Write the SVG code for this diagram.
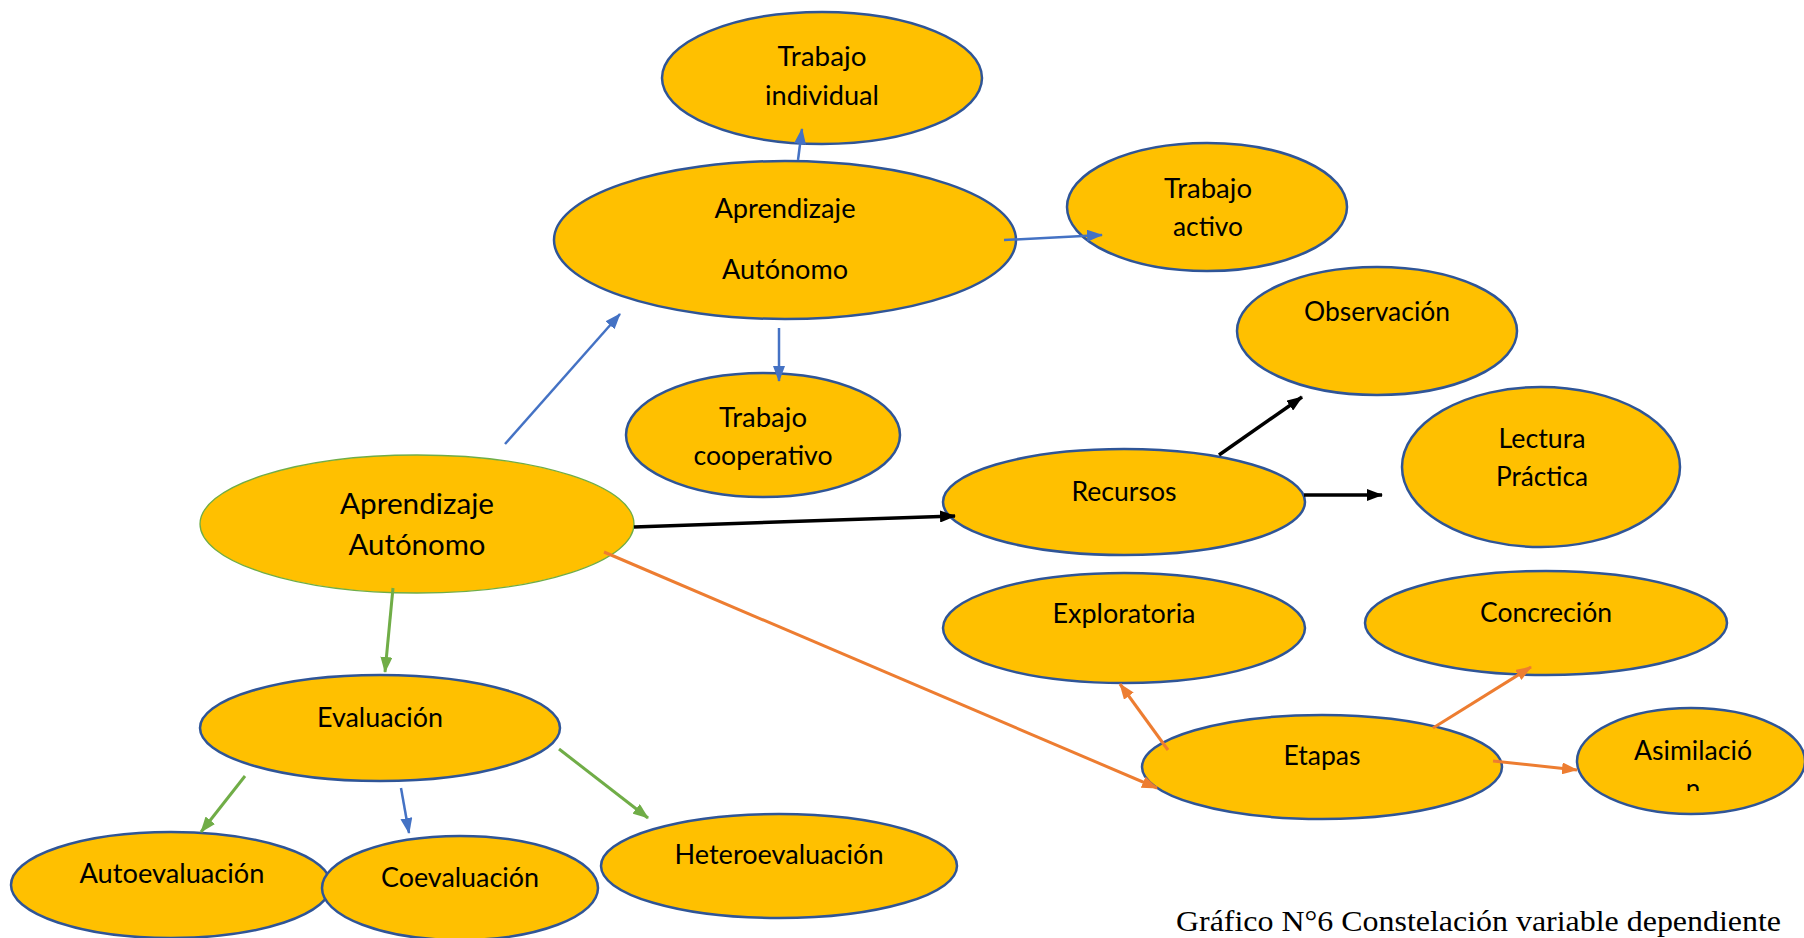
<svg xmlns="http://www.w3.org/2000/svg" width="1804" height="938" viewBox="0 0 1804 938">
<style>
.n{fill:#FFC000;stroke:#2F5597;stroke-width:2.5}
.nm{fill:#FFC000;stroke:#70AD47;stroke-width:1.3}
.t{font-family:Lato,"Noto Sans",sans-serif;font-size:26px;fill:#000;text-anchor:middle}
.tb{font-size:28px}
.c{fill:none}
.blue{stroke:#4472C4;stroke-width:2.5}
.black{stroke:#000;stroke-width:3.5}
.orange{stroke:#ED7D31;stroke-width:3}
.green{stroke:#70AD47;stroke-width:3}
.cap{font-family:"Liberation Serif","Times New Roman",serif;font-size:30px;fill:#000}
</style>
<defs>
<marker id="ab" markerUnits="userSpaceOnUse" markerWidth="16" markerHeight="12" refX="15" refY="6" orient="auto"><path d="M0,0 L16,6 L0,12 z" fill="#4472C4"/></marker>
<marker id="ak" markerUnits="userSpaceOnUse" markerWidth="16" markerHeight="12" refX="15" refY="6" orient="auto"><path d="M0,0 L16,6 L0,12 z" fill="#000"/></marker>
<marker id="ao" markerUnits="userSpaceOnUse" markerWidth="16" markerHeight="12" refX="15" refY="6" orient="auto"><path d="M0,0 L16,6 L0,12 z" fill="#ED7D31"/></marker>
<marker id="ag" markerUnits="userSpaceOnUse" markerWidth="16" markerHeight="12" refX="15" refY="6" orient="auto"><path d="M0,0 L16,6 L0,12 z" fill="#70AD47"/></marker>
<clipPath id="asclip"><rect x="1560" y="690" width="244" height="101"/></clipPath>
</defs>
<rect width="1804" height="938" fill="#fff"/>

<g id="n-trabajo-individual"><ellipse class="n" cx="822" cy="78" rx="160" ry="66"/>
<text class="t" x="822" y="66" textLength="89" lengthAdjust="spacingAndGlyphs">Trabajo</text>
<text class="t" x="822" y="105" textLength="114" lengthAdjust="spacingAndGlyphs">individual</text></g>

<g id="n-aprendizaje-top"><ellipse class="n" cx="785" cy="240" rx="231" ry="79"/>
<text class="t" x="785" y="218" textLength="141" lengthAdjust="spacingAndGlyphs">Aprendizaje</text>
<text class="t" x="785" y="279" textLength="126" lengthAdjust="spacingAndGlyphs">Autónomo</text></g>

<g id="n-trabajo-activo"><ellipse class="n" cx="1207" cy="207" rx="140" ry="64"/>
<text class="t" x="1208" y="198" textLength="88" lengthAdjust="spacingAndGlyphs">Trabajo</text>
<text class="t" x="1208" y="236" textLength="70" lengthAdjust="spacingAndGlyphs">activo</text></g>

<g id="n-observacion"><ellipse class="n" cx="1377" cy="331" rx="140" ry="64"/>
<text class="t" x="1377" y="321" textLength="146" lengthAdjust="spacingAndGlyphs">Observación</text></g>

<g id="n-lectura"><ellipse class="n" cx="1541" cy="467" rx="139" ry="80"/>
<text class="t" x="1542" y="448" textLength="87" lengthAdjust="spacingAndGlyphs">Lectura</text>
<text class="t" x="1542" y="486" textLength="92" lengthAdjust="spacingAndGlyphs">Práctica</text></g>

<g id="n-trabajo-cooperativo"><ellipse class="n" cx="763" cy="435" rx="137" ry="62"/>
<text class="t" x="763" y="427" textLength="88" lengthAdjust="spacingAndGlyphs">Trabajo</text>
<text class="t" x="763" y="465" textLength="139" lengthAdjust="spacingAndGlyphs">cooperativo</text></g>

<g id="n-recursos"><ellipse class="n" cx="1124" cy="502" rx="181" ry="53"/>
<text class="t" x="1124" y="501" textLength="105" lengthAdjust="spacingAndGlyphs">Recursos</text></g>

<g id="n-aprendizaje-main"><ellipse class="nm" cx="417" cy="524" rx="217" ry="69"/>
<text class="t tb" x="417" y="514" textLength="154" lengthAdjust="spacingAndGlyphs">Aprendizaje</text>
<text class="t tb" x="417" y="555" textLength="137" lengthAdjust="spacingAndGlyphs">Autónomo</text></g>

<g id="n-exploratoria"><ellipse class="n" cx="1124" cy="628" rx="181" ry="55"/>
<text class="t" x="1124" y="623" textLength="143" lengthAdjust="spacingAndGlyphs">Exploratoria</text></g>

<g id="n-concrecion"><ellipse class="n" cx="1546" cy="623" rx="181" ry="52"/>
<text class="t" x="1546" y="622" textLength="132" lengthAdjust="spacingAndGlyphs">Concreción</text></g>

<g id="n-etapas"><ellipse class="n" cx="1322" cy="767" rx="180" ry="52"/>
<text class="t" x="1322" y="765" textLength="77" lengthAdjust="spacingAndGlyphs">Etapas</text></g>

<g id="n-asimilacion"><ellipse class="n" cx="1691" cy="761" rx="114" ry="53"/>
<text class="t" x="1693" y="760" textLength="118" lengthAdjust="spacingAndGlyphs">Asimilació</text>
<text class="t" x="1693" y="798" clip-path="url(#asclip)">n</text></g>

<g id="n-evaluacion"><ellipse class="n" cx="380" cy="728" rx="180" ry="53"/>
<text class="t" x="380" y="727" textLength="126" lengthAdjust="spacingAndGlyphs">Evaluación</text></g>

<g id="n-autoevaluacion"><ellipse class="n" cx="171" cy="885" rx="160" ry="53"/>
<text class="t" x="172" y="883" textLength="185" lengthAdjust="spacingAndGlyphs">Autoevaluación</text></g>

<g id="n-coevaluacion"><ellipse class="n" cx="460" cy="888" rx="138" ry="52"/>
<text class="t" x="460" y="887" textLength="158" lengthAdjust="spacingAndGlyphs">Coevaluación</text></g>

<g id="n-heteroevaluacion"><ellipse class="n" cx="779" cy="866" rx="178" ry="52"/>
<text class="t" x="779" y="864" textLength="209" lengthAdjust="spacingAndGlyphs">Heteroevaluación</text></g>

<g id="connectors">
<line class="c blue" x1="505" y1="444" x2="620" y2="314" marker-end="url(#ab)"/>
<line class="c blue" x1="798" y1="160" x2="802" y2="129" marker-end="url(#ab)"/>
<line class="c blue" x1="1004" y1="240" x2="1102" y2="235" marker-end="url(#ab)"/>
<line class="c blue" x1="779" y1="328" x2="779" y2="381" marker-end="url(#ab)"/>
<line class="c black" x1="634" y1="527" x2="955" y2="516" marker-end="url(#ak)"/>
<line class="c black" x1="1219" y1="455" x2="1302" y2="397" marker-end="url(#ak)"/>
<line class="c black" x1="1304" y1="495" x2="1382" y2="495" marker-end="url(#ak)"/>
<line class="c orange" x1="604" y1="552" x2="1157" y2="788" marker-end="url(#ao)"/>
<line class="c orange" x1="1168" y1="750" x2="1120" y2="684" marker-end="url(#ao)"/>
<line class="c orange" x1="1433" y1="728" x2="1531" y2="667" marker-end="url(#ao)"/>
<line class="c orange" x1="1493" y1="761" x2="1577" y2="770" marker-end="url(#ao)"/>
<line class="c green" x1="393" y1="588" x2="385" y2="672" marker-end="url(#ag)"/>
<line class="c green" x1="245" y1="776" x2="201" y2="832" marker-end="url(#ag)"/>
<line class="c blue" x1="401" y1="788" x2="409" y2="833" marker-end="url(#ab)"/>
<line class="c green" x1="559" y1="749" x2="648" y2="818" marker-end="url(#ag)"/>
</g>

<text class="cap" x="1176" y="931" textLength="605" lengthAdjust="spacingAndGlyphs">Gráfico N°6 Constelación variable dependiente</text>
</svg>
